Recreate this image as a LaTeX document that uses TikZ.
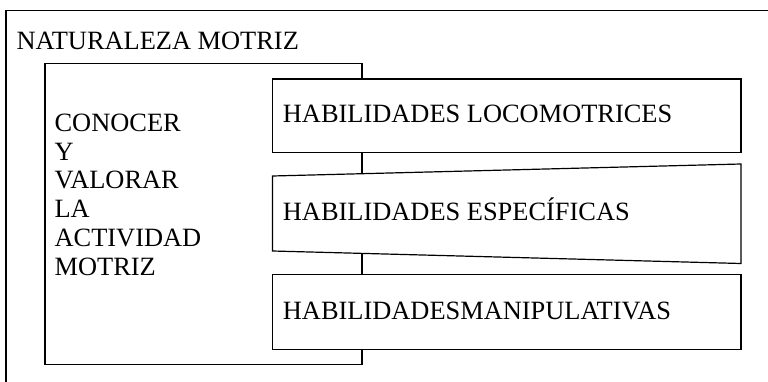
\documentclass[tikz,border=0pt]{standalone}
\usepackage{fontspec}
\setmainfont{Liberation Serif}

\tikzset{
  texto/.style={font=\fontsize{26.4}{28.7}\selectfont, inner sep=0pt, anchor=base west},
  caja/.style={draw, fill=white}
}

\begin{document}
\begin{tikzpicture}[x=1pt,y=-1pt,line width=1.2pt]
\useasboundingbox (0,0) rectangle (768,382);

\draw (768,10.5) -- (6,10.5) -- (6,382);
\node[texto] at (16,50) (naturaleza) {NATURALEZA MOTRIZ};

\draw (45,63.5) rectangle (362,364.5);
% la base del nodo es la de la ultima linea
\node[texto, align=left] at (54,275) (conocer) {CONOCER\\Y\\VALORAR\\LA\\ACTIVIDAD\\MOTRIZ};

\draw[caja] (272.5,79) rectangle (741,152.5);
\draw[caja] (272.5,176) -- (741,164) -- (741,263.5) -- (272.5,251) -- cycle;
\draw[caja] (272.5,274.5) rectangle (741,349.5);

\node[texto] at (282.3,122.3) (loco) {HABILIDADES LOCOMOTRICES};
\node[texto] at (282.3,220.7) (espec) {HABILIDADES ESPECÍFICAS};
\node[texto] at (282.3,319) (mani) {HABILIDADESMANIPULATIVAS};
\end{tikzpicture}
\end{document}
